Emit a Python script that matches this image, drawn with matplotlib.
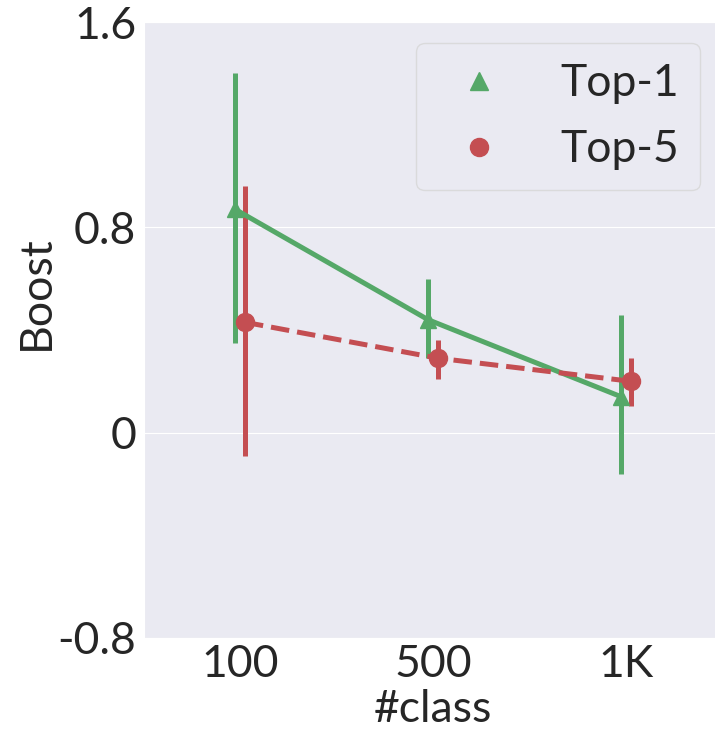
import matplotlib
matplotlib.use("Agg")
import matplotlib.pyplot as plt
from matplotlib.lines import Line2D
import numpy as np
import seaborn as sns

# values
categories = ["100", "500", "1K"]
top1_mean = [0.87, 0.44, 0.14]
top1_lo = [0.35, 0.29, -0.16]
top1_hi = [1.40, 0.60, 0.46]
top5_mean = [0.43, 0.29, 0.20]
top5_lo = [-0.09, 0.21, 0.105]
top5_hi = [0.96, 0.36, 0.29]

GREEN = "#55a868"
RED = "#c44e52"

sns.set_style("darkgrid")
plt.rcParams["font.family"] = ["Lato", "DejaVu Sans"]

fig = plt.figure(figsize=(7.15, 7.39), dpi=100)
ax = fig.add_axes([0.201, 0.137, 0.809, 0.833])

x = np.arange(len(categories))
dodge = 0.025


def draw(xs, mean, lo, hi, color, marker, ls, ms, label):
    mean = np.asarray(mean)
    err = np.vstack([mean - np.asarray(lo), np.asarray(hi) - mean])
    ax.errorbar(xs, mean, yerr=err, fmt="none", ecolor=color, elinewidth=3.6,
                capsize=0, zorder=2)
    ax.plot(xs, mean, color=color, linestyle=ls, linewidth=3.6, zorder=3)
    ax.plot(xs, mean, color=color, linestyle="none", marker=marker,
            markersize=ms, zorder=4, label=label)


draw(x - dodge, top1_mean, top1_lo, top1_hi, GREEN, "^", "-", 12, "Top-1")
draw(x + dodge, top5_mean, top5_lo, top5_hi, RED, "o", "--", 13, "Top-5")

ax.set_xlim(-0.5, 2.5)
ax.set_ylim(-0.8, 1.6)
ax.set_yticks([-0.8, 0, 0.8, 1.6])
ax.set_yticklabels(["-0.8", "0", "0.8", "1.6"])
ax.set_xticks(x)
ax.set_xticklabels(categories)
ax.xaxis.grid(False)
ax.tick_params(axis="y", labelsize=32, pad=2)
ax.tick_params(axis="x", labelsize=32, pad=1)
ax.set_xlabel("#class", fontsize=32, labelpad=3)
ax.set_ylabel("Boost", fontsize=32)
ax.yaxis.set_label_coords(-0.15, 0.56)

handles = [
    Line2D([], [], color=GREEN, marker="^", linestyle="none", markersize=13),
    Line2D([], [], color=RED, marker="o", linestyle="none", markersize=13),
]
leg = ax.legend(handles, ["Top-1", "Top-5"], loc="upper right",
                bbox_to_anchor=(0.961, 0.966), borderaxespad=0,
                fontsize=32, frameon=True,
                handletextpad=0.86, borderpad=0.45, labelspacing=0.57,
                handlelength=1.95)
leg.get_frame().set_edgecolor("#d6d6d6")

fig.savefig("out.png", dpi=100)
